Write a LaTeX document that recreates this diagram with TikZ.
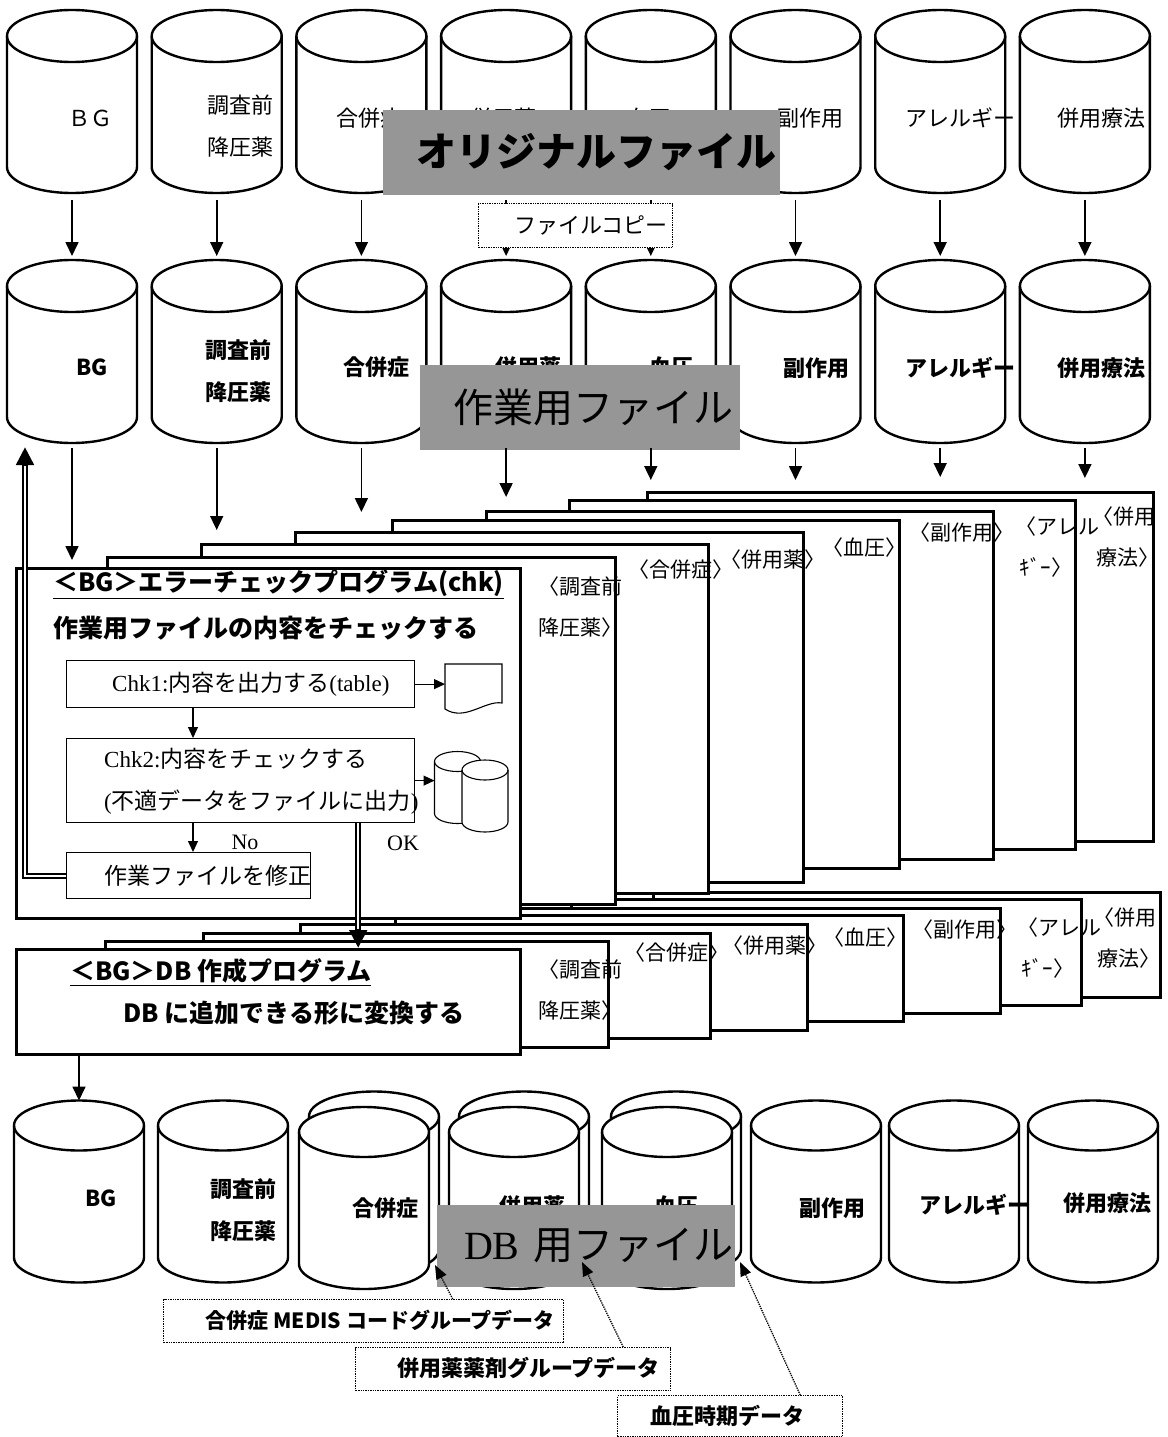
\documentclass[tikz,border=0pt]{standalone}
\usepackage{fontspec}
\setmainfont{Liberation Serif}
\newfontfamily\jp{Noto Sans CJK JP}
\usetikzlibrary{positioning,shapes.geometric,arrows.meta}
\definecolor{titlegray}{RGB}{150,150,150}

\tikzset{
  drum/.style={minimum width=130pt, minimum height=183pt, inner sep=0pt, outer sep=0pt},
  smalldrum/.style={minimum width=46pt, minimum height=72pt, inner sep=0pt, outer sep=0pt},
  lbl/.style={font=\jp\fontsize{22}{42}\selectfont, inner sep=0pt, align=center},
  blbl/.style={font=\jp\bfseries\fontsize{22}{42}\selectfont, inner sep=0pt, align=center},
  slbl/.style={font=\jp\fontsize{21}{41}\selectfont, inner sep=0pt, align=left, anchor=west},
  steptxt/.style={font=\jp\fontsize{23}{42}\selectfont, inner sep=0pt, align=left, anchor=west},
  prgtxt/.style={font=\jp\bfseries\fontsize{25}{30}\selectfont, inner sep=0pt, anchor=west},
  titlebox/.style={fill=titlegray, inner sep=0pt, font=\jp\fontsize{40}{48}\selectfont, align=right},
  stackbox/.style={draw, line width=2.8pt, fill=white, anchor=north west, inner sep=0pt},
  stepbox/.style={draw, line width=1.2pt, fill=white, anchor=north west, inner sep=0pt},
  dotbox/.style={draw, densely dotted, line width=1.4pt, fill=white, anchor=north west, inner sep=0pt},
  arr/.style={line width=1.7pt, -{Triangle[length=14pt,width=13pt]}},
  thinarr/.style={line width=1.1pt, -{Triangle[length=11pt,width=10pt]}},
  dotarr/.style={densely dotted, line width=1.3pt, -{Triangle[length=14pt,width=11pt]}},
  dblarr/.style={line width=6pt, -{Triangle[length=18pt,width=17pt]},
    postaction={draw=white, line width=2pt, -, shorten >=19pt}},
}

% outline of a drum drawn round a named node: node, x radius, y radius, line width
\newcommand\dbdrum[4]{%
  \draw[line width=#4, fill=white] ([yshift=-#3]#1.north west) -- ([yshift=#3]#1.south west)
    arc[start angle=180, end angle=360, x radius=#2, y radius=#3]
    -- ([yshift=-#3]#1.north east)
    arc[start angle=0, end angle=180, x radius=#2, y radius=#3] -- cycle;
  \draw[line width=#4] ([yshift=-#3]#1.north west)
    arc[start angle=180, end angle=360, x radius=#2, y radius=#3];
}

\begin{document}
\begin{tikzpicture}[x=1pt, y=-1pt]
\path[fill=white, use as bounding box] (0,0) rectangle (1167,1437);

% original files
\foreach \i/\lx/\ly/\txt in {1/90/118/ＢＧ, 2/240/126/{調査前\\降圧薬}, 3/369/118/合併症, 4/503/118/併用薬,
    5/648/118/血圧, 6/810/118/副作用, 7/960/118/アレルギー, 8/1101/118/併用療法} {
  \node[drum] (o\i) at ({72+144.7*(\i-1)},101.5) {};
  \dbdrum{o\i}{65pt}{26pt}{2.4pt}
  \node[lbl] (o\i-t) at (\lx,\ly) {\txt};
}
\node[titlebox, font=\jp\bfseries\fontsize{40}{48}\selectfont, minimum width=397pt, minimum height=85pt,
  text width=390pt] (orig) at (581.5,152.5) {オリジナルファイル};

% working files
\foreach \i/\lx/\ly/\txt in {1/92/367/BG, 2/238/371/{調査前\\降圧薬}, 3/376/367/合併症, 4/528/367/併用薬,
    5/671/367/血圧, 6/816/368/副作用, 7/960/368/アレルギー, 8/1101/368/併用療法} {
  \node[drum] (w\i) at ({72+144.7*(\i-1)},351.5) {};
  \dbdrum{w\i}{65pt}{26pt}{2.4pt}
  \node[blbl] (w\i-t) at (\lx,\ly) {\txt};
}
\node[titlebox, minimum width=320pt, minimum height=85pt, text width=306pt] (work) at (580,407.5) {作業用ファイル};

\foreach \i in {1,...,8}
  \draw[arr, shorten <=7pt, shorten >=4pt] (o\i.south) -- (w\i.north);

\node[dotbox, minimum width=194pt, minimum height=44pt] (copy) at (478,203) {};
\node[lbl, anchor=east] (copy-t) at (668,225) {ファイルコピー};

% DB program stack
\foreach \n/\l/\t/\r/\b in {8/652/891/1159/996, 7/570/898/1080/1004, 6/490/907/999/1012, 5/394/914/902/1020,
    4/299/923/806/1029, 3/202/932/709/1037, 2/104/940/607/1046, 1/15/948/519/1053}
  \node[stackbox, minimum width={(\r-\l)*1pt}, minimum height={(\b-\t)*1pt}] (db\n) at (\l,\t) {};
\foreach \n/\x/\y/\txt in {2/538/990/{〈調査前\\降圧薬〉}, 3/624/953/〈合併症〉, 4/722/946/〈併用薬〉,
    5/823/938/〈血圧〉, 6/912/930/〈副作用〉, 7/1017/948/{〈アレル\\\ ｷﾞｰ〉}, 8/1093/938/{〈併用\\\ 療法〉}}
  \node[slbl] (db\n-t) at (\x,\y) {\txt};

% check program stack
\foreach \n/\l/\t/\r/\b in {8/646/491/1152/840, 7/568/499/1074/848, 6/485/510/992/858, 5/391/519/898/867,
    4/294/531/802/881, 3/200/543/707/892, 2/106/556/614/903, 1/15/567/519/917}
  \node[stackbox, minimum width={(\r-\l)*1pt}, minimum height={(\b-\t)*1pt}] (chk\n) at (\l,\t) {};
\foreach \n/\x/\y/\txt in {2/538/607/{〈調査前\\降圧薬〉}, 3/628/570/〈合併症〉, 4/720/560/〈併用薬〉,
    5/822/548/〈血圧〉, 6/909/533/〈副作用〉, 7/1015/547/{〈アレル\\\ ｷﾞｰ〉}, 8/1092/537/{〈併用\\\ 療法〉}}
  \node[slbl] (chk\n-t) at (\x,\y) {\txt};

\foreach \i/\j/\s in {1/1/7, 2/3/13, 3/4/19, 4/6/13, 5/8/11, 6/8/11, 7/8/14, 8/8/13}
  \draw[arr, shorten <=5pt, shorten >=\s pt] (w\i.south) -- (w\i.south |- chk\j.north);

\node[prgtxt] (chk-title) at (53,584) {\underline{＜BG＞エラーチェックプログラム(chk)}};
\node[prgtxt] (chk-sub) at (53,628) {作業用ファイルの内容をチェックする};

\node[stepbox, minimum width=348pt, minimum height=47pt] (step1) at (66,660) {};
\node[steptxt] (step1-t) at (112,684) {{\rmfamily Chk1:}内容を出力する{\rmfamily (table)}};
\node[stepbox, minimum width=348pt, minimum height=84pt] (step2) at (66,738) {};
\node[steptxt] (step2-t) at (104,781) {{\rmfamily Chk2:}内容をチェックする\\{\rmfamily (}不適データをファイルに出力{\rmfamily )}};
\node[stepbox, minimum width=244pt, minimum height=46pt] (fix) at (66,852) {};
\node[steptxt] (fix-t) at (104,876) {作業ファイルを修正};

\draw[line width=1.1pt, fill=white] (445,664) -- (502,664) -- (502,703)
  .. controls (485,700) and (465,722) .. (445,709) -- cycle;
\node[inner sep=0pt, minimum width=57pt, minimum height=45pt, anchor=north west] (docout) at (445,664) {};
\node[smalldrum] (bad1) at (457.5,787.5) {};
\dbdrum{bad1}{23pt}{10pt}{1.1pt}
\node[smalldrum] (bad2) at (485,796) {};
\dbdrum{bad2}{23pt}{10pt}{1.1pt}

\draw[thinarr] (step1.east) -- (step1.east -| docout.west);
\draw[thinarr] ([xshift=127pt]step1.south west) -- ([xshift=127pt]step2.north west);
\draw[thinarr] (step2.east) -- (step2.east -| bad1.west);
\draw[thinarr] ([xshift=127pt]step2.south west) -- ([xshift=127pt]fix.north west);
\node[font=\rmfamily\fontsize{22}{26}\selectfont, inner sep=0pt] (no) at (245,842) {No};
\node[font=\rmfamily\fontsize{22}{26}\selectfont, inner sep=0pt] (ok) at (403,843) {OK};

\node[prgtxt] (db-title) at (70,972) {\underline{＜BG＞DB 作成プログラム}};
\node[prgtxt] (db-sub) at (123,1013) {DB に追加できる形に変換する};

% DB files
\foreach \i/\x in {3/374, 4/524, 5/676} {
  \node[drum] (d\i b) at (\x,1183) {};
  \dbdrum{d\i b}{65pt}{25pt}{2.4pt}
}
\foreach \i/\x/\y in {1/79/1191.5, 2/223/1191.5, 3/364/1198, 4/514/1198, 5/667/1198, 6/816/1191.5,
    7/954/1191.5, 8/1093/1191.5} {
  \node[drum, minimum height=182pt] (d\i) at (\x,\y) {};
  \dbdrum{d\i}{65pt}{25pt}{2.4pt}
}
\foreach \i/\lx/\ly/\txt in {1/101/1198/BG, 2/243/1210/{調査前\\降圧薬}, 3/385/1208/合併症, 4/532/1206/併用薬,
    5/676/1206/血圧, 6/832/1208/副作用, 7/974/1205/アレルギー, 8/1107/1203/併用療法}
  \node[blbl] (d\i-t) at (\lx,\ly) {\txt};
\node[titlebox, minimum width=298pt, minimum height=82pt, text width=294pt] (dbfile) at (586,1246)
  {{\rmfamily DB} 用ファイル};

\draw[arr] (db1.south -| d1.north) -- (d1.north);

\node[dotbox, minimum width=400pt, minimum height=43pt] (medis) at (163,1299) {};
\node[blbl, font=\jp\bfseries\fontsize{21}{26}\selectfont, anchor=east] (medis-t) at (555,1320) {合併症 MEDIS コードグループデータ};
\node[dotbox, minimum width=315pt, minimum height=43pt] (drug) at (355,1347) {};
\node[blbl, anchor=east] (drug-t) at (660,1368) {併用薬薬剤グループデータ};
\node[dotbox, minimum width=225pt, minimum height=41pt] (bp) at (617,1395) {};
\node[blbl, anchor=east] (bp-t) at (805,1416) {血圧時期データ};

\coordinate (medistip) at (435,1265);
\coordinate (drugtip) at (582,1262);
\coordinate (bptip) at (740,1262);
\draw[dotarr] ([xshift=89pt]medis.north) -- (medistip);
\draw[dotarr] ([xshift=110pt]drug.north) -- (drugtip);
\draw[dotarr] ([xshift=70pt]bp.north) -- (bptip);

% check -> DB program, and back to the working file
\draw[dblarr] ([xshift=-57pt]step2.south east) -- ([xshift=-57pt]step2.south east |- db1.north);
\draw[dblarr] (fix.west) -| ([xshift=-47pt,yshift=-4pt]w1.south);
\end{tikzpicture}
\end{document}
